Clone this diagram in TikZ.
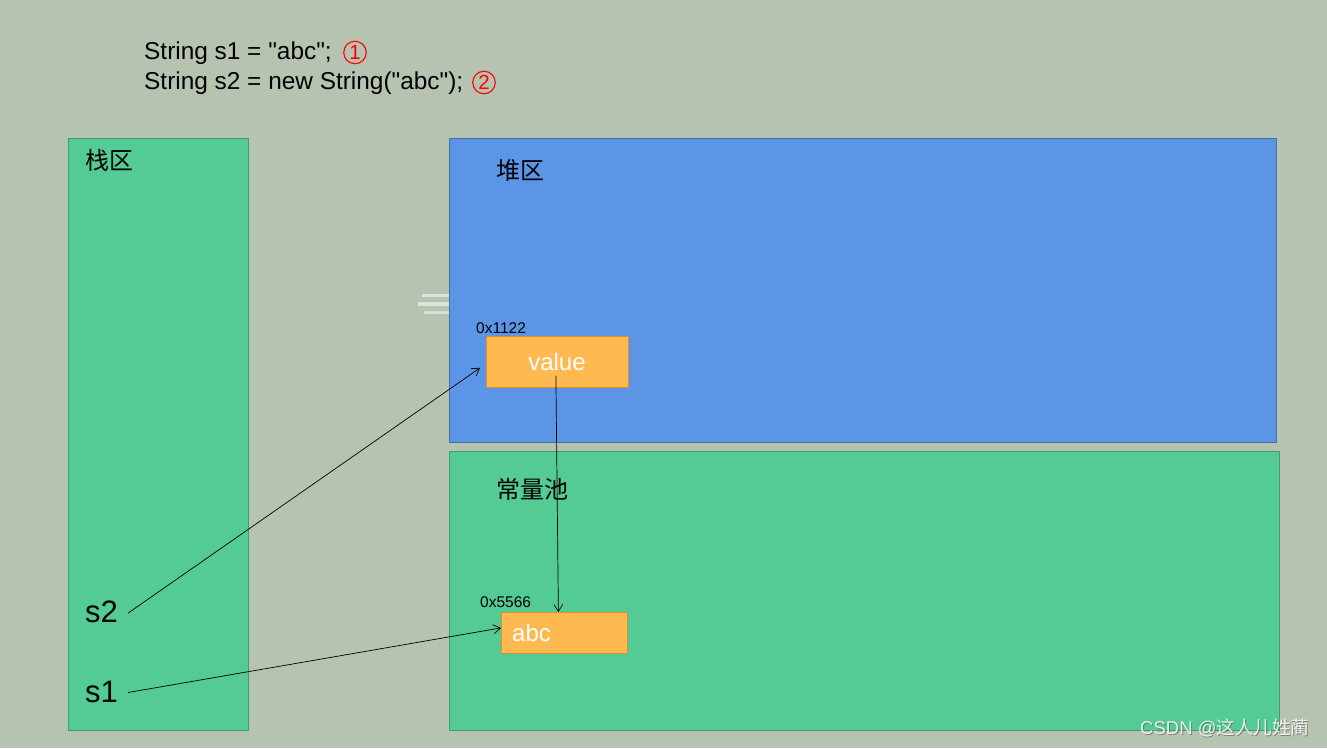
\documentclass[tikz,border=0pt]{standalone}
\usepackage{fontspec}
\setmainfont{Liberation Sans}
\newfontfamily\codefont{Liberation Sans}
\newfontfamily\cjkfont{Noto Sans CJK SC}
\usetikzlibrary{arrows.meta,calc}
\definecolor{bgcol}{HTML}{B7C3B1}
\definecolor{greenfill}{HTML}{54CA95}
\definecolor{greenline}{HTML}{3F9E70}
\definecolor{bluefill}{HTML}{5D95E6}
\definecolor{blueline}{HTML}{4270B0}
\definecolor{orangefill}{HTML}{FFB951}
\definecolor{orangeline}{HTML}{D9912F}
\definecolor{redmark}{HTML}{FF0000}
\tikzset{
  region/.style={draw, line width=0.8pt, anchor=north west, inner sep=0pt},
  stackbox/.style={region, fill=greenfill, draw=greenline},
  heapbox/.style={region, fill=bluefill, draw=blueline},
  objbox/.style={draw=orangeline, fill=orangefill, line width=0.8pt, anchor=north west, inner sep=0pt},
  txt/.style={inner sep=0pt, anchor=base west, text=black},
  codetxt/.style={txt, font=\codefont\fontsize{24.4}{24.4}\selectfont},
  markcirc/.style={circle, draw=redmark, line width=1.1pt, minimum size=22.5pt, inner sep=0pt, text=redmark, font=\codefont\fontsize{20.5}{20.5}\selectfont},
  cjktxt/.style={txt, font=\cjkfont\fontsize{24}{24}\selectfont},
  vartxt/.style={txt, font=\fontsize{31}{31}\selectfont},
  addrtxt/.style={txt, font=\fontsize{15.5}{15.5}\selectfont},
  whitetxt/.style={inner sep=0pt, text=white, font=\fontsize{24}{24}\selectfont},
  arr/.style={-{Straight Barb[length=7pt,width=9pt]}, line width=0.7pt, draw=black},
}
\begin{document}
\begin{tikzpicture}[x=1pt,y=-1pt]
\fill[bgcol] (0,0) rectangle (1327,748);
\useasboundingbox (0,0) rectangle (1327,748);

% smudge artifact
\fill[white, opacity=0.55] (422,294) rectangle (450,297);
\fill[white, opacity=0.55] (418,302) rectangle (450,306);
\fill[white, opacity=0.45] (424,311) rectangle (450,314);

% code lines
\node[codetxt] (code1) at (144,59.5) {String s1 = "abc";};
\node[markcirc] (mark1) at (355,52.5) {1};
\node[codetxt] (code2) at (144,89.5) {String s2 = new String("abc");};
\node[markcirc] (mark2) at (484,82.5) {2};

% regions
\node[stackbox, minimum width=180pt, minimum height=592pt] (stack) at (68,138) {};
\node[heapbox, minimum width=827pt, minimum height=304pt] (heap) at (449,138) {};
\node[stackbox, minimum width=830pt, minimum height=279pt] (pool) at (449,451) {};

\node[cjktxt] (stacklbl) at (85,169) {栈区};
\node[cjktxt] (heaplbl) at (496,179) {堆区};
\node[cjktxt] (poollbl) at (496,498) {常量池};

% objects
\node[objbox, minimum width=142pt, minimum height=51pt] (valbox) at (486,336) {};
\node[whitetxt] (valtxt) at (557,362) {value};
\node[addrtxt] (addr1) at (476,333) {0x1122};

\node[objbox, minimum width=126pt, minimum height=41pt] (abcbox) at (501,612) {};
\node[whitetxt, anchor=base west] (abctxt) at (512,641) {abc};
\node[addrtxt] (addr2) at (480,607) {0x5566};

% variables
\node[vartxt] (s2) at (85,622.7) {s2};
\node[vartxt] (s1) at (85,702) {s1};

% arrows
\draw[arr] ($(s2.east)+(10,1)$) -- ($(valbox.west)+(-6,6)$);
\draw[arr] ($(s1.east)+(10,1)$) -- ($(abcbox.west)+(0,-5)$);
\draw[arr] ($(valbox.center)+(-1.5,14)$) -- ($(abcbox.north)+(-6,0)$);

% watermark
\node[txt, text=gray!70!black, opacity=0.6, font=\fontsize{18.5}{18.5}\selectfont] (wmshadow) at (1141,735) {CSDN @{\cjkfont 这人儿姓蔺}};
\node[txt, text=white, opacity=0.85, font=\fontsize{18.5}{18.5}\selectfont] (wm) at (1140,734) {CSDN @{\cjkfont 这人儿姓蔺}};
\end{tikzpicture}
\end{document}
